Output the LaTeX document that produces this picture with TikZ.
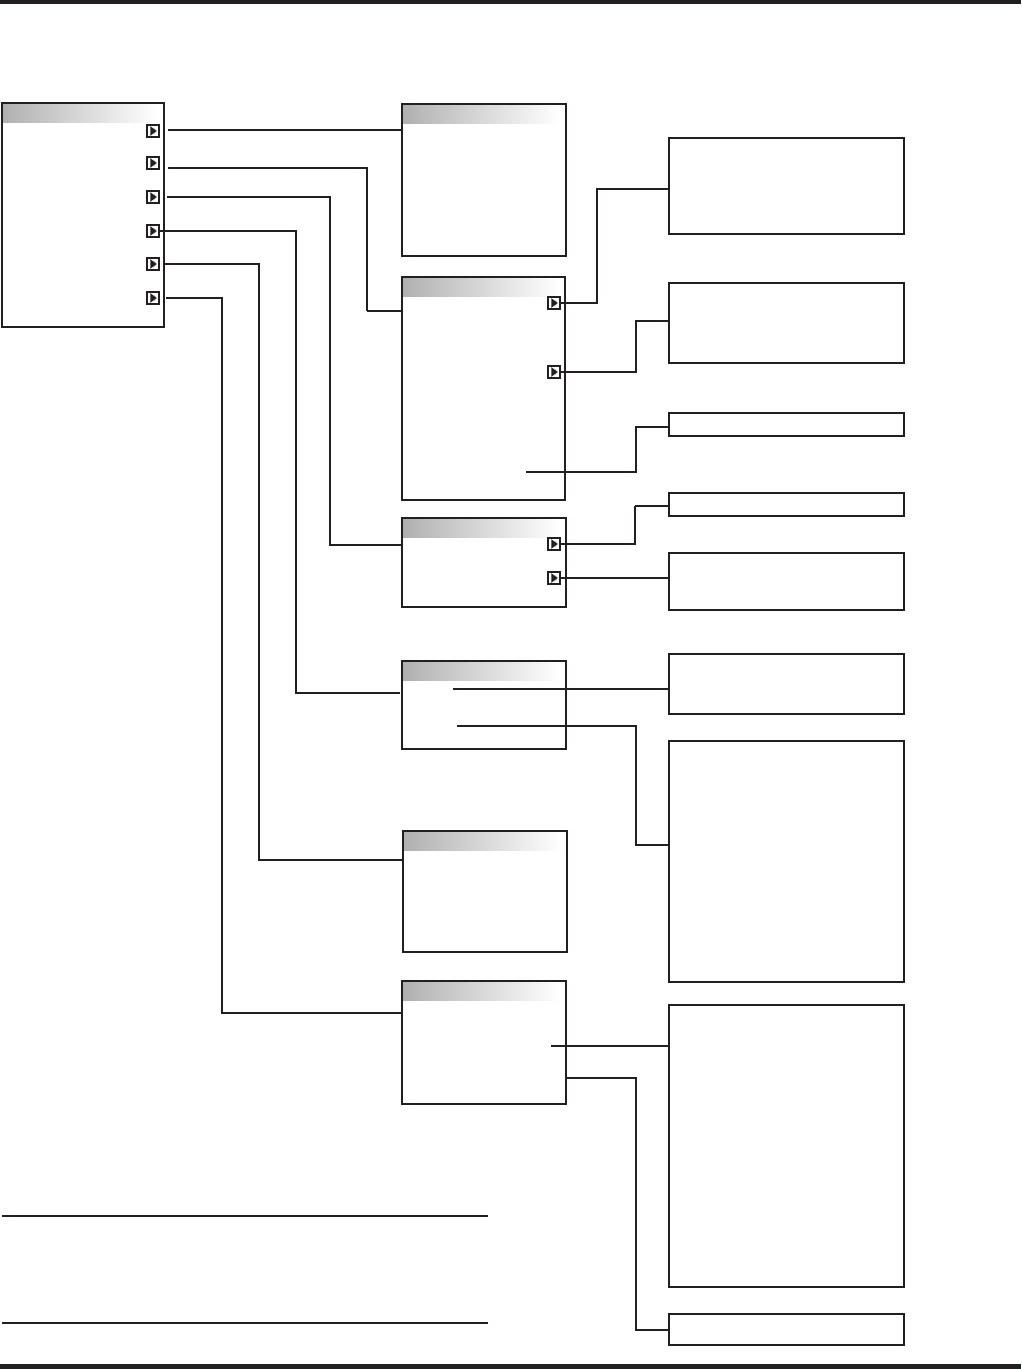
\documentclass[tikz,border=0pt]{standalone}
\usetikzlibrary{calc}
\definecolor{ink}{RGB}{35,31,32}
\begin{document}
\begin{tikzpicture}[x=1pt,y=-1pt,
  menubox/.style={draw=ink,line width=1.5pt,rectangle,inner sep=0pt,outer sep=0pt,anchor=north west},
  infobox/.style={draw=ink,line width=1.4pt,rectangle,inner sep=0pt,outer sep=0pt,anchor=north west},
  iconbox/.style={draw=ink,line width=1.1pt,rectangle,inner sep=0pt,outer sep=0pt,minimum size=12pt,
    path picture={\fill[gray!60] ($(path picture bounding box.center)+(0.5,-3.5)$) -- ($(path picture bounding box.center)+(0.5,3.5)$) -- ($(path picture bounding box.center)+(4.2,0)$) -- cycle;
                  \fill[ink] ($(path picture bounding box.center)+(-2.6,-4.8)$) -- ($(path picture bounding box.center)+(-2.6,4.8)$) -- ($(path picture bounding box.center)+(3.4,0)$) -- cycle;}},
  conn/.style={draw=ink,line width=1.3pt},
  thickconn/.style={draw=ink,line width=2.6pt}
]
\useasboundingbox (0,0) rectangle (1021,1369);
\fill[white] (0,0) rectangle (1021,1369);
% page bars
\fill[ink] (0,0) rectangle (1021,4);
\fill[ink] (0,1364) rectangle (1021,1369);

% menu boxes
\node[menubox,minimum width=162pt,minimum height=224pt] (M) at (2,103) {};
\node[menubox,minimum width=164pt,minimum height=152pt] (A) at (402,104) {};
\node[menubox,minimum width=163pt,minimum height=223pt] (B) at (402,277) {};
\node[menubox,minimum width=164pt,minimum height=89pt] (C) at (402,518) {};
\node[menubox,minimum width=164pt,minimum height=88pt] (D) at (402,661) {};
\node[menubox,minimum width=164pt,minimum height=121pt] (E) at (403,831) {};
\node[menubox,minimum width=164pt,minimum height=123pt] (F) at (402,981) {};

% gradient headers
\foreach \b in {M,A,B,C,D,E,F}{
  \shade[left color=gray!62,right color=white] ($(\b.north west)+(1,1)$) rectangle ($(\b.north east)+(-6,19)$);
}

% info boxes
\node[infobox,minimum width=235pt,minimum height=96pt] (R1) at (669,138) {};
\node[infobox,minimum width=235pt,minimum height=80pt] (R2) at (669,283) {};
\node[infobox,minimum width=235pt,minimum height=23pt] (R3) at (669,413) {};
\node[infobox,minimum width=235pt,minimum height=23pt] (R4) at (669,493) {};
\node[infobox,minimum width=235pt,minimum height=57pt] (R5) at (669,553) {};
\node[infobox,minimum width=235pt,minimum height=60pt] (R6) at (669,654) {};
\node[infobox,minimum width=235pt,minimum height=241pt] (R7) at (669,741) {};
\node[infobox,minimum width=235pt,minimum height=282pt] (R8) at (669,1005) {};
\node[infobox,minimum width=235pt,minimum height=31pt] (R9) at (669,1314) {};

% icons
\node[iconbox] (m1) at (153,131) {};
\node[iconbox] (m2) at (153,163) {};
\node[iconbox] (m3) at (153,197) {};
\node[iconbox] (m4) at (153,231) {};
\node[iconbox] (m5) at (153,264) {};
\node[iconbox] (m6) at (153,298) {};
\node[iconbox] (b1) at (554,303) {};
\node[iconbox] (b2) at (554,372) {};
\node[iconbox] (c1) at (554,544) {};
\node[iconbox] (c2) at (554,578) {};

% free ends and bends
\coordinate (s1) at (168,130);
\coordinate (s2) at (168,168);
\coordinate (s3) at (167,197);
\coordinate (s5) at (165,264);
\coordinate (s6) at (166,298);
\coordinate (k2) at (367,311);
\coordinate (k3) at (330,545);
\coordinate (k4) at (296,693);
\coordinate (k5) at (259,860);
\coordinate (k6) at (222,1013);
\coordinate (kb1) at (597,189);
\coordinate (kb2) at (636,321);
\coordinate (sb3) at (526,472);
\coordinate (kb3) at (636,427);
\coordinate (kc1) at (635,506);
\coordinate (sd1) at (453,689);
\coordinate (sd2) at (457,726);
\coordinate (kd2) at (636,845);
\coordinate (sf1) at (551,1046);
\coordinate (sf2) at (566,1078);
\coordinate (kf2) at (636,1330);

% connectors from main menu
\draw[conn] (s1) -- (s1 -| A.west);
\draw[conn,line width=2.3pt] (s2) -| (k2);
\draw[conn] (k2) -- (k2 -| B.west);
\draw[conn] (s3) -| (k3) -- (k3 -| C.west);
\draw[conn] (m4.east) -| (k4) -- ($(k4 -| D.west)+(-2,0)$);
\draw[conn] (s5) -| (k5) -- (k5 -| E.west);
\draw[conn] (s6) -| (k6) -- (k6 -| F.west);

% connectors from sub menus
\draw[conn] (b1.east) -| (kb1) -- (kb1 -| R1.west);
\draw[conn] (b2.east) -| (kb2) -- (kb2 -| R2.west);
\draw[conn] (sb3) -| (kb3) -- (kb3 -| R3.west);
\draw[conn] (c1.east) -| (kc1);
\draw[thickconn,line width=2.4pt] (kc1) -- (kc1 -| R4.west);
\draw[conn] (c2.east) -- (c2.east -| R5.west);
\draw[conn] (sd1) -- (sd1 -| R6.west);
\draw[conn] (sd2) -| (kd2) -- (kd2 -| R7.west);
\draw[thickconn] (sf1) -- (sf1 -| R8.west);
\draw[conn] (sf2) -| (kf2) -- (kf2 -| R9.west);

% rules near bottom
\draw[ink,line width=2pt] (2,1216) -- (488,1216);
\draw[ink,line width=2pt] (2,1323) -- (488,1323);
\end{tikzpicture}
\end{document}
